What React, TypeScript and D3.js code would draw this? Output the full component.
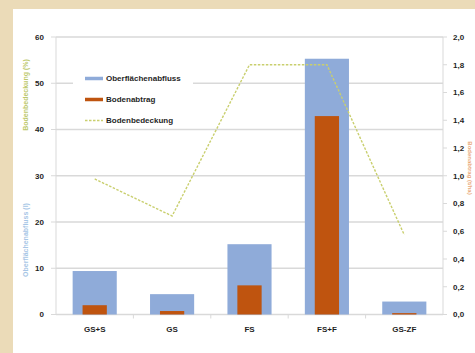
import React from "react";
import * as d3 from "d3";

const categories = ["GS+S", "GS", "FS", "FS+F", "GS-ZF"];
// Oberflächenabfluss (l), left axis
const runoff = [9.4, 4.4, 15.2, 55.3, 2.8];
// Bodenabtrag (t/ha), right axis
const soilLoss = [0.067, 0.025, 0.21, 1.43, 0.01];
// Bodenbedeckung (%), left axis
const cover = [29.3, 21.3, 54, 54, 17.2];
const leftTicks = [0, 10, 20, 30, 40, 50, 60];
const rightTicks = [0, 0.2, 0.4, 0.6, 0.8, 1.0, 1.2, 1.4, 1.6, 1.8, 2.0];
const legendItems = ["Oberflächenabfluss", "Bodenabtrag", "Bodenbedeckung"];

const W = 475;
const H = 353;
const plot = { left: 56, right: 443, top: 37, bottom: 314.5 };

const BLUE = "#8fabd9";
const ORANGE = "#bf540f";
const GREEN = "#c9cf6e";
const GRID = "#d9d9d9";
const TEXT = "#1f1f1f";
const FONT = "'Liberation Sans', Arial, sans-serif";

export default function App() {
  const x = d3
    .scaleBand<string>()
    .domain(categories)
    .range([plot.left, plot.right])
    .paddingInner(0.43)
    .paddingOuter(0.215);
  const yL = d3.scaleLinear().domain([0, 60]).range([plot.bottom, plot.top]);
  const yR = d3.scaleLinear().domain([0, 2]).range([plot.bottom, plot.top]);

  const line = d3
    .line<number>()
    .x((_, i) => (x(categories[i]) as number) + x.bandwidth() / 2)
    .y((d) => yL(d));

  const bw = x.bandwidth();
  const innerW = bw * 0.55;

  const legendX = 85;
  const legendY = [78.5, 99.5, 120.5];

  return (
    <svg
      width={W}
      height={H}
      style={{ position: "absolute", left: 0, top: 0, display: "block" }}
      fontFamily={FONT}
    >
      <rect x={0} y={0} width={W} height={H} fill="#ebdbb8" />
      <rect x={13} y={9} width={W - 13} height={H - 9} fill="#ffffff" />

      {/* horizontal gridlines */}
      {leftTicks.map((t) => (
        <line
          key={"g" + t}
          x1={plot.left}
          x2={plot.right}
          y1={yL(t)}
          y2={yL(t)}
          stroke={GRID}
          strokeWidth={1.4}
        />
      ))}

      {/* axis lines */}
      <line x1={plot.left} x2={plot.left} y1={plot.top} y2={plot.bottom} stroke={GRID} strokeWidth={1} />
      <line x1={plot.right} x2={plot.right} y1={plot.top} y2={plot.bottom} stroke={GRID} strokeWidth={1} />
      {leftTicks.map((t) => (
        <line key={"lt" + t} x1={plot.left - 5} x2={plot.left} y1={yL(t)} y2={yL(t)} stroke={GRID} />
      ))}
      {rightTicks.map((t) => (
        <line key={"rt" + t} x1={plot.right} x2={plot.right + 4} y1={yR(t)} y2={yR(t)} stroke={GRID} />
      ))}
      {categories.map((c, i) =>
        i === 0 ? null : (
          <line
            key={"ct" + c}
            x1={(x(c) as number) - (x.step() - bw) / 2}
            x2={(x(c) as number) - (x.step() - bw) / 2}
            y1={plot.bottom}
            y2={plot.bottom + 4}
            stroke={GRID}
          />
        )
      )}

      {/* bars */}
      {runoff.map((v, i) => (
        <rect
          key={"b" + i}
          x={x(categories[i])}
          y={yL(v)}
          width={bw}
          height={plot.bottom - yL(v)}
          fill={BLUE}
        />
      ))}
      {soilLoss.map((v, i) => (
        <rect
          key={"o" + i}
          x={(x(categories[i]) as number) + (bw - innerW) / 2}
          y={yR(v)}
          width={innerW}
          height={plot.bottom - yR(v)}
          fill={ORANGE}
        />
      ))}

      {/* cover line */}
      <path d={line(cover) || ""} fill="none" stroke={GREEN} strokeWidth={1.4} strokeDasharray="2.5,1.5" />

      {/* legend */}
      <rect x={73} y={70} width={120} height={58} fill="#ffffff" />
      {legendItems.map((name, i) => (
        <g key={name}>
          {i === 2 ? (
            <line x1={legendX} x2={legendX + 18} y1={legendY[i]} y2={legendY[i]} stroke={GREEN} strokeWidth={1.4} strokeDasharray="2.5,1.5" />
          ) : (
            <line
              x1={legendX}
              x2={legendX + 18}
              y1={legendY[i]}
              y2={legendY[i]}
              stroke={i === 0 ? BLUE : ORANGE}
              strokeWidth={3.5}
            />
          )}
          <text x={legendX + 21} y={legendY[i]} dy="0.35em" fontSize={8} fontWeight="bold" fill={TEXT}>
            {name}
          </text>
        </g>
      ))}

      {/* left tick labels */}
      {leftTicks.map((t) => (
        <text
          key={"ll" + t}
          x={44}
          y={yL(t)}
          dy="0.35em"
          textAnchor="end"
          fontSize={8}
          fontWeight="bold"
          fill={TEXT}
        >
          {t}
        </text>
      ))}

      {/* right tick labels */}
      {rightTicks.map((t) => (
        <text
          key={"rl" + t}
          x={453}
          y={yR(t)}
          dy="0.35em"
          fontSize={8}
          fontWeight="bold"
          fill={TEXT}
        >
          {d3.format(".1f")(t).replace(".", ",")}
        </text>
      ))}

      {/* category labels */}
      {categories.map((c) => (
        <text
          key={"c" + c}
          x={(x(c) as number) + bw / 2}
          y={329}
          dy="0.35em"
          textAnchor="middle"
          fontSize={8}
          fontWeight="bold"
          fill={TEXT}
        >
          {c}
        </text>
      ))}

      {/* axis titles */}
      <text
        transform="translate(26,95) rotate(-90)"
        textAnchor="middle"
        dy="0.35em"
        fontSize={7}
        fontWeight="bold"
        fill="#bcc86a"
      >
        Bodenbedeckung (%)
      </text>
      <text
        transform="translate(26,240) rotate(-90)"
        textAnchor="middle"
        dy="0.35em"
        fontSize={7}
        fontWeight="bold"
        fill="#a7c6e6"
      >
        Oberflächenabfluss (l)
      </text>
      <text
        transform="translate(470.5,168) rotate(90)"
        textAnchor="middle"
        dy="0.35em"
        fontSize={6}
        fontWeight="bold"
        fill="#e9a877"
      >
        Bodenabtrag (t/ha)
      </text>
    </svg>
  );
}
